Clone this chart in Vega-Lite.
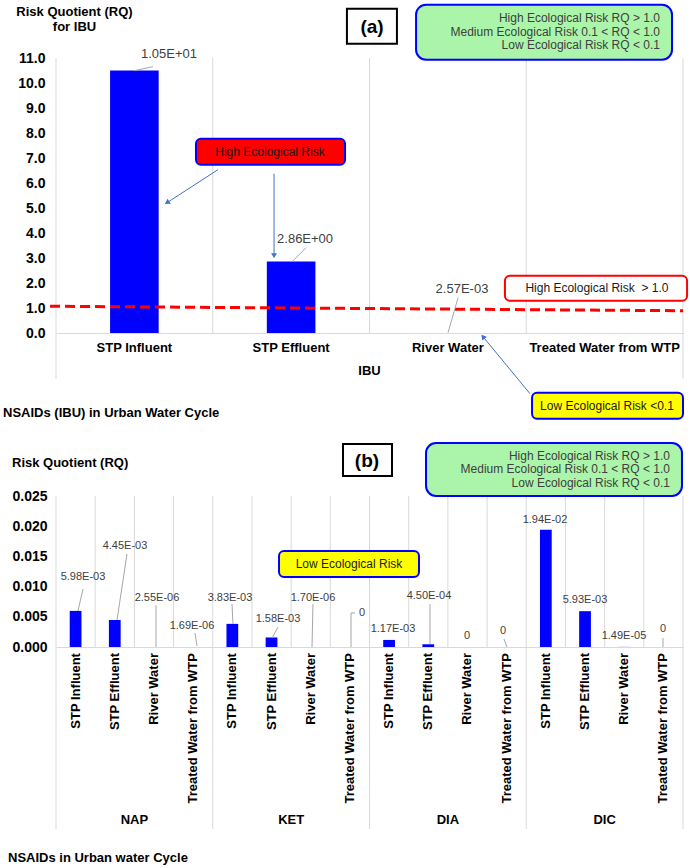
{
  "$schema": "https://vega.github.io/schema/vega-lite/v6.json",
  "background": "white",
  "padding": {"left": 3, "top": 3, "right": 0, "bottom": 0},
  "spacing": 21,
  "config": {
    "view": {"stroke": null},
    "text": {"font": "Liberation Sans"},
    "axis": {"labelFont": "Liberation Sans", "titleFont": "Liberation Sans"}
  },
  "vconcat": [
    {
      "width": 627,
      "height": 275,
      "resolve": {"scale": {"x": "independent", "y": "independent"}},
      "layer": [
        {
          "data": {"values": [
            {"x": 0, "y": -1.828, "y2": 11},
            {"x": 1, "y": 0, "y2": 11},
            {"x": 2, "y": 0, "y2": 11},
            {"x": 3, "y": 0, "y2": 11},
            {"x": 4, "y": -1.828, "y2": 11}
          ]},
          "mark": {"type": "rule", "color": "#d9d9d9", "strokeWidth": 1},
          "encoding": {
            "x": {"field": "x", "type": "quantitative", "scale": {"domain": [0, 4], "nice": false, "zero": false}, "axis": null},
            "y": {"field": "y", "type": "quantitative", "scale": {"domain": [0, 11], "nice": false, "zero": false}, "axis": null},
            "y2": {"field": "y2"}
          }
        },
        {
          "data": {"values": [
            {"sample": "STP Influent", "rq": 10.5},
            {"sample": "STP Effluent", "rq": 2.86},
            {"sample": "River Water", "rq": 0.00257},
            {"sample": "Treated Water from WTP", "rq": 0}
          ]},
          "mark": {"type": "bar", "color": "#0000ff", "width": {"band": 0.31}},
          "encoding": {
            "x": {"field": "sample", "type": "nominal", "sort": null,
              "scale": {"paddingInner": 0, "paddingOuter": 0},
              "axis": {"title": null, "labelAngle": 0, "ticks": false, "domainColor": "#d9d9d9", "labelFontSize": 13, "labelFontWeight": "bold", "labelColor": "#000000", "labelPadding": 8, "grid": false, "labelOverlap": false}},
            "y": {"field": "rq", "type": "quantitative",
              "scale": {"domain": [0, 11], "nice": false, "zero": false},
              "axis": {"title": null, "values": [0, 1, 2, 3, 4, 5, 6, 7, 8, 9, 10, 11], "format": ".1f", "domain": false, "ticks": false, "grid": false, "labelFontSize": 14, "labelFontWeight": "bold", "labelColor": "#000000", "labelPadding": 11, "labelOverlap": false}}
          }
        },
        {
          "data": {"values": [{"x": -0.038, "y": 1.07, "x2": 4.0, "y2": 0.89}]},
          "mark": {"type": "rule", "color": "#ff0000", "strokeWidth": 3, "strokeDash": [10, 5]},
          "encoding": {
            "x": {"field": "x", "type": "quantitative", "scale": {"domain": [0, 4], "nice": false, "zero": false}, "axis": null},
            "y": {"field": "y", "type": "quantitative", "scale": {"domain": [0, 11], "nice": false, "zero": false}, "axis": null},
            "x2": {"field": "x2"},
            "y2": {"field": "y2"}
          }
        },
        {
          "data": {"values": [
            {"x": 0.498, "y": 10.492, "x2": 0.619, "y2": 10.652},
            {"x": 1.506, "y": 2.852, "x2": 1.595, "y2": 3.412},
            {"x": 2.501, "y": 0.012, "x2": 2.565, "y2": 1.412}
          ]},
          "mark": {"type": "rule", "color": "#a6a6a6", "strokeWidth": 1},
          "encoding": {
            "x": {"field": "x", "type": "quantitative", "scale": {"domain": [0, 4], "nice": false, "zero": false}, "axis": null},
            "y": {"field": "y", "type": "quantitative", "scale": {"domain": [0, 11], "nice": false, "zero": false}, "axis": null},
            "x2": {"field": "x2"},
            "y2": {"field": "y2"}
          }
        },
        {
          "data": {"values": [
            {"x": 1.033, "y": 6.532, "x2": 0.708, "y2": 5.212, "angle": 237},
            {"x": 1.391, "y": 6.372, "x2": 1.391, "y2": 3.092, "angle": 180},
            {"x": 3.024, "y": -2.428, "x2": 2.724, "y2": -0.148, "angle": 320}
          ]},
          "layer": [
            {
              "mark": {"type": "rule", "color": "#4472c4", "strokeWidth": 1},
              "encoding": {
                "x": {"field": "x", "type": "quantitative", "scale": {"domain": [0, 4], "nice": false, "zero": false}, "axis": null},
                "y": {"field": "y", "type": "quantitative", "scale": {"domain": [0, 11], "nice": false, "zero": false}, "axis": null},
                "x2": {"field": "x2"},
                "y2": {"field": "y2"}
              }
            },
            {
              "mark": {"type": "point", "shape": "triangle-up", "filled": true, "color": "#4472c4", "size": 35, "opacity": 1},
              "encoding": {
                "x": {"field": "x2", "type": "quantitative", "scale": {"domain": [0, 4], "nice": false, "zero": false}, "axis": null},
                "y": {"field": "y2", "type": "quantitative", "scale": {"domain": [0, 11], "nice": false, "zero": false}, "axis": null},
                "angle": {"field": "angle", "type": "quantitative", "scale": null}
              }
            }
          ]
        },
        {
          "data": {"values": [
            {"box": "legend", "x": 2.297, "x2": 3.930, "y": 13.132, "y2": 10.932}
          ]},
          "mark": {"type": "rect", "cornerRadius": 10, "fill": "#aaf5aa", "stroke": "#0000ff", "strokeWidth": 2},
          "encoding": {
            "x": {"field": "x", "type": "quantitative", "scale": {"domain": [0, 4], "nice": false, "zero": false}, "axis": null},
            "y": {"field": "y", "type": "quantitative", "scale": {"domain": [0, 11], "nice": false, "zero": false}, "axis": null},
            "x2": {"field": "x2"},
            "y2": {"field": "y2"}
          }
        },
        {
          "data": {"values": [
            {"box": "high", "x": 0.893, "x2": 1.844, "y": 7.772, "y2": 6.732},
            {"box": "threshold", "x": 2.864, "x2": 4.026, "y": 2.292, "y2": 1.292},
            {"box": "low", "x": 3.037, "x2": 4.0, "y": -2.388, "y2": -3.428}
          ]},
          "mark": {"type": "rect", "cornerRadius": 5, "strokeWidth": 2},
          "encoding": {
            "x": {"field": "x", "type": "quantitative", "scale": {"domain": [0, 4], "nice": false, "zero": false}, "axis": null},
            "y": {"field": "y", "type": "quantitative", "scale": {"domain": [0, 11], "nice": false, "zero": false}, "axis": null},
            "x2": {"field": "x2"},
            "y2": {"field": "y2"},
            "fill": {"field": "box", "type": "nominal", "scale": {"domain": ["high", "threshold", "low"], "range": ["#ff0000", "#ffffff", "#ffff00"]}, "legend": null},
            "stroke": {"field": "box", "type": "nominal", "scale": {"domain": ["high", "threshold", "low"], "range": ["#0000ff", "#ff0000", "#0000ff"]}, "legend": null}
          }
        },
        {
          "data": {"values": [{"x": 1.856, "x2": 2.175, "y": 12.972, "y2": 11.572}]},
          "mark": {"type": "rect", "fill": "#ffffff", "stroke": "#000000", "strokeWidth": 2},
          "encoding": {
            "x": {"field": "x", "type": "quantitative", "scale": {"domain": [0, 4], "nice": false, "zero": false}, "axis": null},
            "y": {"field": "y", "type": "quantitative", "scale": {"domain": [0, 11], "nice": false, "zero": false}, "axis": null},
            "x2": {"field": "x2"},
            "y2": {"field": "y2"}
          }
        },
        {
          "data": {"values": [
            {"x": 0.721, "y": 11.172, "text": "1.05E+01"},
            {"x": 1.589, "y": 3.772, "text": "2.86E+00"},
            {"x": 2.590, "y": 1.772, "text": "2.57E-03"}
          ]},
          "mark": {"type": "text", "fontSize": 13, "color": "#404040", "align": "center", "baseline": "middle"},
          "encoding": {
            "x": {"field": "x", "type": "quantitative", "scale": {"domain": [0, 4], "nice": false, "zero": false}, "axis": null},
            "y": {"field": "y", "type": "quantitative", "scale": {"domain": [0, 11], "nice": false, "zero": false}, "axis": null},
            "text": {"field": "text"}
          }
        },
        {
          "data": {"values": [
            {"x": 1.365, "y": 7.252, "text": "High Ecological Risk"},
            {"x": 3.451, "y": 1.812, "text": "High Ecological Risk \u00a0> 1.0"},
            {"x": 3.515, "y": -2.908, "text": "Low Ecological Risk <0.1"}
          ]},
          "mark": {"type": "text", "fontSize": 12, "color": "#1a1a1a", "align": "center", "baseline": "middle"},
          "encoding": {
            "x": {"field": "x", "type": "quantitative", "scale": {"domain": [0, 4], "nice": false, "zero": false}, "axis": null},
            "y": {"field": "y", "type": "quantitative", "scale": {"domain": [0, 11], "nice": false, "zero": false}, "axis": null},
            "text": {"field": "text"}
          }
        },
        {
          "data": {"values": [
            {"x": 3.853, "y": 12.612, "text": "High Ecological Risk RQ > 1.0"},
            {"x": 3.853, "y": 12.052, "text": "Medium Ecological Risk 0.1 < RQ < 1.0"},
            {"x": 3.853, "y": 11.532, "text": "Low Ecological Risk RQ < 0.1"}
          ]},
          "mark": {"type": "text", "fontSize": 12, "color": "#404040", "align": "right", "baseline": "middle"},
          "encoding": {
            "x": {"field": "x", "type": "quantitative", "scale": {"domain": [0, 4], "nice": false, "zero": false}, "axis": null},
            "y": {"field": "y", "type": "quantitative", "scale": {"domain": [0, 11], "nice": false, "zero": false}, "axis": null},
            "text": {"field": "text"}
          }
        },
        {
          "data": {"values": [{"x": 2.016, "y": 12.252, "text": "(a)"}]},
          "mark": {"type": "text", "fontSize": 19, "fontWeight": "bold", "color": "#000000", "align": "center", "baseline": "middle"},
          "encoding": {
            "x": {"field": "x", "type": "quantitative", "scale": {"domain": [0, 4], "nice": false, "zero": false}, "axis": null},
            "y": {"field": "y", "type": "quantitative", "scale": {"domain": [0, 11], "nice": false, "zero": false}, "axis": null},
            "text": {"field": "text"}
          }
        },
        {
          "data": {"values": [
            {"x": 0.118, "y": 12.852, "text": "Risk Quotient (RQ)"},
            {"x": 0.118, "y": 12.252, "text": "for IBU"},
            {"x": 2.0, "y": -1.508, "text": "IBU"}
          ]},
          "mark": {"type": "text", "fontSize": 13, "fontWeight": "bold", "color": "#000000", "align": "center", "baseline": "middle"},
          "encoding": {
            "x": {"field": "x", "type": "quantitative", "scale": {"domain": [0, 4], "nice": false, "zero": false}, "axis": null},
            "y": {"field": "y", "type": "quantitative", "scale": {"domain": [0, 11], "nice": false, "zero": false}, "axis": null},
            "text": {"field": "text"}
          }
        },
        {
          "data": {"values": [{"x": -0.338, "y": -3.188, "text": "NSAIDs (IBU) in Urban Water Cycle"}]},
          "mark": {"type": "text", "fontSize": 13, "fontWeight": "bold", "color": "#000000", "align": "left", "baseline": "middle"},
          "encoding": {
            "x": {"field": "x", "type": "quantitative", "scale": {"domain": [0, 4], "nice": false, "zero": false}, "axis": null},
            "y": {"field": "y", "type": "quantitative", "scale": {"domain": [0, 11], "nice": false, "zero": false}, "axis": null},
            "text": {"field": "text"}
          }
        }
      ]
    },
    {
      "width": 627,
      "height": 151,
      "resolve": {"scale": {"x": "independent", "y": "independent"}},
      "layer": [
        {
          "data": {"values": [
            {"x": 0, "y": -0.030132, "y2": 0.025},
            {"x": 1, "y": 0, "y2": 0.025},
            {"x": 2, "y": 0, "y2": 0.025},
            {"x": 3, "y": 0, "y2": 0.025},
            {"x": 4, "y": -0.030132, "y2": 0.025},
            {"x": 5, "y": 0, "y2": 0.025},
            {"x": 6, "y": 0, "y2": 0.025},
            {"x": 7, "y": 0, "y2": 0.025},
            {"x": 8, "y": -0.030132, "y2": 0.025},
            {"x": 9, "y": 0, "y2": 0.025},
            {"x": 10, "y": 0, "y2": 0.025},
            {"x": 11, "y": 0, "y2": 0.025},
            {"x": 12, "y": -0.030132, "y2": 0.025},
            {"x": 13, "y": 0, "y2": 0.025},
            {"x": 14, "y": 0, "y2": 0.025},
            {"x": 15, "y": 0, "y2": 0.025},
            {"x": 16, "y": -0.030132, "y2": 0.025}
          ]},
          "mark": {"type": "rule", "color": "#d9d9d9", "strokeWidth": 1},
          "encoding": {
            "x": {"field": "x", "type": "quantitative", "scale": {"domain": [0, 16], "nice": false, "zero": false}, "axis": null},
            "y": {"field": "y", "type": "quantitative", "scale": {"domain": [0, 0.025], "nice": false, "zero": false}, "axis": null},
            "y2": {"field": "y2"}
          }
        },
        {
          "data": {"values": [
            {"drug": "NAP", "sample": "STP Influent", "rq": 0.00598},
            {"drug": "NAP", "sample": "STP Effluent", "rq": 0.00445},
            {"drug": "NAP", "sample": "River Water", "rq": 0.00000255},
            {"drug": "NAP", "sample": "Treated Water from WTP", "rq": 0.00000169},
            {"drug": "KET", "sample": "STP Influent", "rq": 0.00383},
            {"drug": "KET", "sample": "STP Effluent", "rq": 0.00158},
            {"drug": "KET", "sample": "River Water", "rq": 0.0000017},
            {"drug": "KET", "sample": "Treated Water from WTP", "rq": 0},
            {"drug": "DIA", "sample": "STP Influent", "rq": 0.00117},
            {"drug": "DIA", "sample": "STP Effluent", "rq": 0.00045},
            {"drug": "DIA", "sample": "River Water", "rq": 0},
            {"drug": "DIA", "sample": "Treated Water from WTP", "rq": 0},
            {"drug": "DIC", "sample": "STP Influent", "rq": 0.0194},
            {"drug": "DIC", "sample": "STP Effluent", "rq": 0.00593},
            {"drug": "DIC", "sample": "River Water", "rq": 0.0000149},
            {"drug": "DIC", "sample": "Treated Water from WTP", "rq": 0}
          ]},
          "encoding": {
            "x": {"field": "drug", "type": "nominal", "sort": ["NAP", "KET", "DIA", "DIC"],
              "scale": {"paddingInner": 0, "paddingOuter": 0},
              "axis": {"title": null, "labelAngle": 0, "ticks": false, "tickSize": 0, "domainColor": "#d9d9d9", "labelFontSize": 13, "labelFontWeight": "bold", "labelColor": "#000000", "labelBaseline": "middle", "labelPadding": 172, "grid": false, "labelOverlap": false}},
            "xOffset": {"field": "sample", "type": "nominal", "sort": ["STP Influent", "STP Effluent", "River Water", "Treated Water from WTP"],
              "scale": {"paddingInner": 0.7, "paddingOuter": 0.35}}
          },
          "layer": [
            {
              "mark": {"type": "bar", "color": "#0000ff"},
              "encoding": {
                "y": {"field": "rq", "type": "quantitative",
                  "scale": {"domain": [0, 0.025], "nice": false, "zero": false},
                  "axis": {"title": null, "values": [0, 0.005, 0.01, 0.015, 0.02, 0.025], "format": ".3f", "domain": false, "ticks": false, "grid": false, "labelFontSize": 14, "labelFontWeight": "bold", "labelColor": "#000000", "labelPadding": 9, "labelOverlap": false}}
              }
            },
            {
              "mark": {"type": "text", "angle": 270, "align": "right", "baseline": "middle", "fontSize": 13, "fontWeight": "bold", "color": "#000000"},
              "encoding": {
                "y": {"datum": -0.001, "type": "quantitative",
                  "scale": {"domain": [0, 0.025], "nice": false, "zero": false},
                  "axis": {"title": null, "values": [0, 0.005, 0.01, 0.015, 0.02, 0.025], "format": ".3f", "domain": false, "ticks": false, "grid": false, "labelFontSize": 14, "labelFontWeight": "bold", "labelColor": "#000000", "labelPadding": 9, "labelOverlap": false}},
                "text": {"field": "sample"}
              }
            }
          ]
        },
        {
          "data": {"values": [
            {"x": 0.561, "y": 0.00596, "x2": 0.689, "y2": 0.0096},
            {"x": 1.557, "y": 0.00447, "x2": 1.812, "y2": 0.0154},
            {"x": 2.552, "y": 0, "x2": 2.552, "y2": 0.00695},
            {"x": 3.598, "y": 0.000166, "x2": 3.547, "y2": 0.00232},
            {"x": 4.517, "y": 0.00381, "x2": 4.491, "y2": 0.00712},
            {"x": 5.512, "y": 0.00149, "x2": 5.665, "y2": 0.00331},
            {"x": 6.533, "y": 0, "x2": 6.558, "y2": 0.00712},
            {"x": 7.528, "y": 0, "x2": 7.528, "y2": 0.00563},
            {"x": 7.528, "y": 0.00563, "x2": 7.63, "y2": 0.00563},
            {"x": 9.544, "y": 0.0005, "x2": 9.544, "y2": 0.00712},
            {"x": 11.432, "y": 0.00132, "x2": 11.509, "y2": 0},
            {"x": 15.489, "y": 0.00149, "x2": 15.489, "y2": 0}
          ]},
          "mark": {"type": "rule", "color": "#a6a6a6", "strokeWidth": 1},
          "encoding": {
            "x": {"field": "x", "type": "quantitative", "scale": {"domain": [0, 16], "nice": false, "zero": false}, "axis": null},
            "y": {"field": "y", "type": "quantitative", "scale": {"domain": [0, 0.025], "nice": false, "zero": false}, "axis": null},
            "x2": {"field": "x2"},
            "y2": {"field": "y2"}
          }
        },
        {
          "data": {"values": [{"x": 9.442, "x2": 15.974, "y": 0.033775, "y2": 0.025}]},
          "mark": {"type": "rect", "cornerRadius": 10, "fill": "#aaf5aa", "stroke": "#0000ff", "strokeWidth": 2},
          "encoding": {
            "x": {"field": "x", "type": "quantitative", "scale": {"domain": [0, 16], "nice": false, "zero": false}, "axis": null},
            "y": {"field": "y", "type": "quantitative", "scale": {"domain": [0, 0.025], "nice": false, "zero": false}, "axis": null},
            "x2": {"field": "x2"},
            "y2": {"field": "y2"}
          }
        },
        {
          "data": {"values": [{"x": 5.691, "x2": 9.263, "y": 0.015894, "y2": 0.011589}]},
          "mark": {"type": "rect", "cornerRadius": 5, "fill": "#ffff00", "stroke": "#0000ff", "strokeWidth": 2},
          "encoding": {
            "x": {"field": "x", "type": "quantitative", "scale": {"domain": [0, 16], "nice": false, "zero": false}, "axis": null},
            "y": {"field": "y", "type": "quantitative", "scale": {"domain": [0, 0.025], "nice": false, "zero": false}, "axis": null},
            "x2": {"field": "x2"},
            "y2": {"field": "y2"}
          }
        },
        {
          "data": {"values": [{"x": 7.324, "x2": 8.574, "y": 0.03361, "y2": 0.028311}]},
          "mark": {"type": "rect", "fill": "#ffffff", "stroke": "#000000", "strokeWidth": 2},
          "encoding": {
            "x": {"field": "x", "type": "quantitative", "scale": {"domain": [0, 16], "nice": false, "zero": false}, "axis": null},
            "y": {"field": "y", "type": "quantitative", "scale": {"domain": [0, 0.025], "nice": false, "zero": false}, "axis": null},
            "x2": {"field": "x2"},
            "y2": {"field": "y2"}
          }
        },
        {
          "data": {"values": [
            {"x": 0.689, "y": 0.011589, "text": "5.98E-03"},
            {"x": 1.761, "y": 0.016722, "text": "4.45E-03"},
            {"x": 2.577, "y": 0.008113, "text": "2.55E-06"},
            {"x": 3.471, "y": 0.003477, "text": "1.69E-06"},
            {"x": 4.44, "y": 0.008113, "text": "3.83E-03"},
            {"x": 5.665, "y": 0.004636, "text": "1.58E-03"},
            {"x": 6.558, "y": 0.008113, "text": "1.70E-06"},
            {"x": 7.809, "y": 0.005629, "text": "0"},
            {"x": 8.6, "y": 0.00298, "text": "1.17E-03"},
            {"x": 9.518, "y": 0.008444, "text": "4.50E-04"},
            {"x": 10.488, "y": 0.001821, "text": "0"},
            {"x": 11.407, "y": 0.002649, "text": "0"},
            {"x": 12.478, "y": 0.021026, "text": "1.94E-02"},
            {"x": 13.499, "y": 0.007781, "text": "5.93E-03"},
            {"x": 14.494, "y": 0.001821, "text": "1.49E-05"},
            {"x": 15.489, "y": 0.00298, "text": "0"}
          ]},
          "mark": {"type": "text", "fontSize": 11, "color": "#404040", "align": "center", "baseline": "middle"},
          "encoding": {
            "x": {"field": "x", "type": "quantitative", "scale": {"domain": [0, 16], "nice": false, "zero": false}, "axis": null},
            "y": {"field": "y", "type": "quantitative", "scale": {"domain": [0, 0.025], "nice": false, "zero": false}, "axis": null},
            "text": {"field": "text"}
          }
        },
        {
          "data": {"values": [
            {"x": 15.668, "y": 0.031623, "text": "High Ecological Risk RQ > 1.0"},
            {"x": 15.668, "y": 0.02947, "text": "Medium Ecological Risk 0.1 < RQ < 1.0"},
            {"x": 15.668, "y": 0.027152, "text": "Low Ecological Risk RQ < 0.1"}
          ]},
          "mark": {"type": "text", "fontSize": 12, "color": "#404040", "align": "right", "baseline": "middle"},
          "encoding": {
            "x": {"field": "x", "type": "quantitative", "scale": {"domain": [0, 16], "nice": false, "zero": false}, "axis": null},
            "y": {"field": "y", "type": "quantitative", "scale": {"domain": [0, 0.025], "nice": false, "zero": false}, "axis": null},
            "text": {"field": "text"}
          }
        },
        {
          "data": {"values": [{"x": 7.477, "y": 0.013742, "text": "Low Ecological Risk"}]},
          "mark": {"type": "text", "fontSize": 12, "color": "#1a1a1a", "align": "center", "baseline": "middle"},
          "encoding": {
            "x": {"field": "x", "type": "quantitative", "scale": {"domain": [0, 16], "nice": false, "zero": false}, "axis": null},
            "y": {"field": "y", "type": "quantitative", "scale": {"domain": [0, 0.025], "nice": false, "zero": false}, "axis": null},
            "text": {"field": "text"}
          }
        },
        {
          "data": {"values": [{"x": 7.936, "y": 0.030795, "text": "(b)"}]},
          "mark": {"type": "text", "fontSize": 19, "fontWeight": "bold", "color": "#000000", "align": "center", "baseline": "middle"},
          "encoding": {
            "x": {"field": "x", "type": "quantitative", "scale": {"domain": [0, 16], "nice": false, "zero": false}, "axis": null},
            "y": {"field": "y", "type": "quantitative", "scale": {"domain": [0, 0.025], "nice": false, "zero": false}, "axis": null},
            "text": {"field": "text"}
          }
        },
        {
          "data": {"values": [
            {"x": -1.123, "y": 0.030464, "text": "Risk Quotient (RQ)"},
            {"x": -1.225, "y": -0.034934, "text": "NSAIDs in Urban water Cycle"}
          ]},
          "mark": {"type": "text", "fontSize": 13, "fontWeight": "bold", "color": "#000000", "align": "left", "baseline": "middle"},
          "encoding": {
            "x": {"field": "x", "type": "quantitative", "scale": {"domain": [0, 16], "nice": false, "zero": false}, "axis": null},
            "y": {"field": "y", "type": "quantitative", "scale": {"domain": [0, 0.025], "nice": false, "zero": false}, "axis": null},
            "text": {"field": "text"}
          }
        }
      ]
    }
  ]
}
